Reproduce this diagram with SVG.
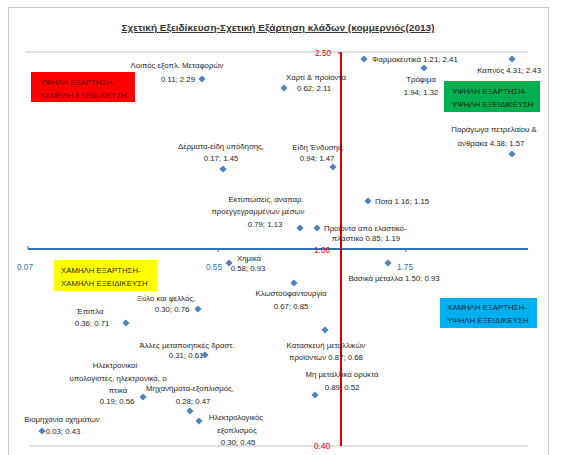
<svg xmlns="http://www.w3.org/2000/svg" xmlns:xlink="http://www.w3.org/1999/xlink" width="562" height="455" viewBox="0 0 562 455">
<style>
text{font-family:"Liberation Sans",Arial,sans-serif;}
.lbl{font-size:7.8px;fill:#262626;text-anchor:middle;}
.lbs{font-size:7.8px;fill:#262626;}
.box{font-size:7.8px;}
.ax{font-size:8.2px;}
.grid{stroke:#bfbfbf;stroke-width:1;fill:none;}
</style>
<defs>
<path id="dm" d="M0,-3.6 L3.6,0 0,3.6 -3.6,0Z" fill="#4F81BD"/>
</defs>
<rect x="0" y="0" width="562" height="455" fill="#ffffff"/>
<rect x="8.5" y="7.5" width="540" height="460" fill="none" stroke="#c8c8c8" stroke-width="1"/>
<text x="278" y="31" font-size="9.5" font-weight="bold" fill="#333" text-anchor="middle" text-decoration="underline" textLength="313" lengthAdjust="spacingAndGlyphs">Σχετική Εξειδίκευση-Σχετική Εξάρτηση κλάδων (κομμερνιός(2013)</text>

<g id="axes">
<line class="grid" x1="25" y1="52" x2="528" y2="52"/>
<line class="grid" x1="30" y1="446" x2="528" y2="446"/>
<line x1="28" y1="249" x2="528" y2="249" stroke="#2E75B6" stroke-width="2"/>
<line x1="28" y1="246" x2="28" y2="249" stroke="#2E75B6" stroke-width="1"/>
<line x1="218" y1="249" x2="218" y2="252" stroke="#2E75B6" stroke-width="1"/>
<line x1="406" y1="249" x2="406" y2="252" stroke="#2E75B6" stroke-width="1"/>
<line x1="341" y1="52" x2="341" y2="446" stroke="#D00000" stroke-width="2"/>
<line x1="338" y1="53" x2="341" y2="53" stroke="#D00000" stroke-width="1"/>
<text class="ax" x="331" y="56" fill="#E00000" text-anchor="end">2.50</text>
<text class="ax" x="330" y="253" fill="#E00000" text-anchor="end">1.00</text>
<text class="ax" x="330" y="449" fill="#E00000" text-anchor="end">0.40</text>
<text class="ax" x="17" y="270" fill="#2E75B6">0.07</text>
<text class="ax" x="206" y="270" fill="#2E75B6">0.55</text>
<text class="ax" x="397" y="270" fill="#2E75B6">1.75</text>
</g>

<g id="q-red">
<rect x="31" y="72" width="104" height="30" fill="#FF0000"/>
<text class="box" x="40" y="85" fill="#5A0000">ΥΨΗΛΗ ΕΞΑΡΤΗΣΗ-</text>
<text class="box" x="40" y="98" fill="#5A0000">ΧΑΜΗΛΗ ΕΞΕΙΔΙΚΕΥΣΗ</text>
</g>
<g id="q-green">
<rect x="444" y="81" width="96" height="31" fill="#00B050"/>
<text class="box" x="452" y="94" fill="#0c260c">ΥΨΗΛΗ ΕΞΑΡΤΗΣΗ-</text>
<text class="box" x="452" y="107" fill="#0c260c">ΥΨΗΛΗ ΕΞΕΙΔΙΚΕΥΣΗ</text>
</g>
<g id="q-yellow">
<rect x="54" y="260" width="103" height="31" fill="#FFFF00"/>
<text class="box" x="61" y="273" fill="#2e2600">ΧΑΜΗΛΗ ΕΞΑΡΤΗΣΗ-</text>
<text class="box" x="61" y="286" fill="#2e2600">ΧΑΜΗΛΗ ΕΞΕΙΔΙΚΕΥΣΗ</text>
</g>
<g id="q-blue">
<rect x="440" y="298" width="97" height="30" fill="#00B0F0"/>
<text class="box" x="447" y="310" fill="#0a2540">ΧΑΜΗΛΗ ΕΞΑΡΤΗΣΗ-</text>
<text class="box" x="447" y="323" fill="#0a2540">ΥΨΗΛΗ ΕΞΕΙΔΙΚΕΥΣΗ</text>
</g>

<g id="p-transport">
<use xlink:href="#dm" x="202" y="79"/>
<text class="lbl" x="177" y="68">Λοιπός εξοπλ. Μεταφορών</text>
<text class="lbl" x="178" y="82">0.11; 2.29</text>
</g>
<g id="p-paper">
<use xlink:href="#dm" x="284" y="88"/>
<text class="lbl" x="316" y="80">Χαρτί &amp; προϊόντα</text>
<text class="lbl" x="314" y="91">0.62; 2.11</text>
</g>
<g id="p-pharma">
<use xlink:href="#dm" x="364" y="59"/>
<text class="lbs" x="372" y="62">Φαρμακευτικά 1.21; 2.41</text>
</g>
<g id="p-food">
<use xlink:href="#dm" x="424" y="68"/>
<text class="lbl" x="421" y="82">Τρόφιμα</text>
<text class="lbl" x="421" y="95">1.94; 1.32</text>
</g>
<g id="p-tobacco">
<use xlink:href="#dm" x="512" y="59"/>
<text class="lbs" x="541" y="73" text-anchor="end">Καπνός 4.31; 2.43</text>
</g>
<g id="p-petroleum">
<use xlink:href="#dm" x="512" y="154"/>
<text class="lbl" x="494" y="132">Παράγωγα πετρελαίου &amp;</text>
<text class="lbl" x="491" y="146">άνθρακα 4.38; 1.57</text>
</g>
<g id="p-clothing">
<use xlink:href="#dm" x="333" y="167"/>
<text class="lbl" x="318" y="150">Είδη Ένδυσης,</text>
<text class="lbl" x="317" y="161">0.94; 1.47</text>
</g>
<g id="p-drinks">
<use xlink:href="#dm" x="368" y="201"/>
<text class="lbs" x="375" y="204">Ποτά 1.16; 1.15</text>
</g>
<g id="p-leather">
<use xlink:href="#dm" x="223" y="169"/>
<text class="lbl" x="221" y="149">Δέρματα-είδη υπόδησης,</text>
<text class="lbl" x="221" y="161">0.17; 1.45</text>
</g>
<g id="p-printing">
<use xlink:href="#dm" x="300" y="228"/>
<text class="lbl" x="266" y="202">Εκτυπώσεις, αναπαρ.</text>
<text class="lbl" x="258" y="214">προεγγεγραμμένων μέσων</text>
<text class="lbl" x="265" y="227">0.79; 1.13</text>
</g>
<g id="p-rubber">
<use xlink:href="#dm" x="317" y="228"/>
<text class="lbs" x="324" y="231">Προϊόντα από ελαστικό-</text>
<text class="lbl" x="366" y="241">πλαστικό 0.85; 1.19</text>
</g>
<g id="p-basicmetals">
<use xlink:href="#dm" x="388" y="263"/>
<text class="lbl" x="394" y="281">Βασικά μέταλλα 1.50; 0.93</text>
</g>
<g id="p-chemicals">
<use xlink:href="#dm" x="229" y="263"/>
<text class="lbl" x="249" y="261">Χημικά</text>
<text class="lbl" x="248" y="271">0.58; 0.93</text>
</g>
<g id="p-wood">
<use xlink:href="#dm" x="198" y="309"/>
<text class="lbl" x="166" y="301">Ξύλο και φελλός,</text>
<text class="lbl" x="172" y="312">0.30; 0.76</text>
</g>
<g id="p-furniture">
<use xlink:href="#dm" x="126" y="323"/>
<text class="lbl" x="90" y="314">Έπιπλα</text>
<text class="lbl" x="92" y="326">0.36; 0.71</text>
</g>
<g id="p-textiles">
<use xlink:href="#dm" x="294" y="283"/>
<text class="lbl" x="291" y="296">Κλωστοϋφαντουργία</text>
<text class="lbl" x="291" y="309">0.67; 0.85</text>
</g>
<g id="p-fabmetal">
<use xlink:href="#dm" x="325" y="330"/>
<text class="lbl" x="326" y="348">Κατασκευή μεταλλικών</text>
<text class="lbl" x="326" y="360">προϊόντων 0.87; 0.68</text>
</g>
<g id="p-nonmetal">
<use xlink:href="#dm" x="315" y="395"/>
<text class="lbl" x="342" y="377">Μη μεταλλικά ορυκτά</text>
<text class="lbl" x="342" y="390">0.89; 0.52</text>
</g>
<g id="p-othermfg">
<use xlink:href="#dm" x="205" y="355"/>
<text class="lbl" x="187" y="348">Άλλες μεταποιητικές δραστ.</text>
<text class="lbl" x="186" y="358">0.31; 0.61</text>
</g>
<g id="p-electronics">
<use xlink:href="#dm" x="143" y="397"/>
<text class="lbl" x="115" y="368">Ηλεκτρονικοί</text>
<text class="lbl" x="118" y="381">υπολογιστές, ηλεκτρονικά, ο</text>
<text class="lbl" x="118" y="393">πτικά</text>
<text class="lbl" x="117" y="404">0.19; 0.56</text>
</g>
<g id="p-machinery">
<use xlink:href="#dm" x="190" y="411"/>
<text class="lbl" x="190" y="391">Μηχανήματα-εξοπλισμός,</text>
<text class="lbl" x="193" y="404">0.28; 0.47</text>
</g>
<g id="p-electrical">
<use xlink:href="#dm" x="199" y="421"/>
<text class="lbl" x="236" y="420">Ηλεκτρολογικός</text>
<text class="lbl" x="237" y="433">εξοπλισμός</text>
<text class="lbl" x="238" y="445">0.30; 0.45</text>
</g>
<g id="p-vehicles">
<use xlink:href="#dm" x="42" y="431"/>
<text class="lbl" x="62" y="422">Βιομηχανία οχημάτων</text>
<text class="lbl" x="63" y="434">0.03; 0.43</text>
</g>
</svg>
